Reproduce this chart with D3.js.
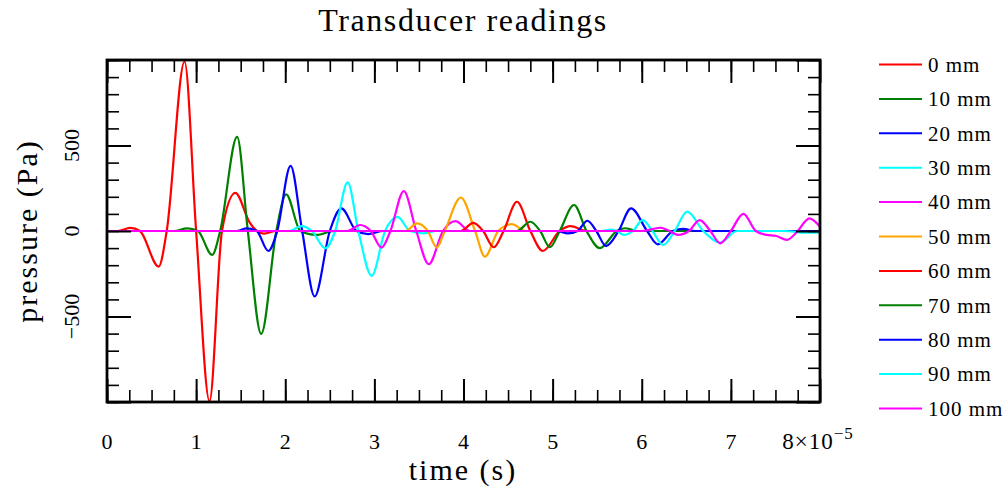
<!DOCTYPE html>
<html>
<head>
<meta charset="utf-8">
<script src="https://cdn.jsdelivr.net/npm/d3@7"></script>
<style>
  body { margin: 0; background: #fff; }
  text { font-family: "Liberation Serif", "DejaVu Serif", serif; fill: #000; }
</style>
</head>
<body>
<svg id="chart" width="1008" height="492"></svg>
<script>
// time in units of 1e-5 s, pressure in Pa
const labels = ['0 mm', '10 mm', '20 mm', '30 mm', '40 mm', '50 mm', '60 mm', '70 mm', '80 mm', '90 mm', '100 mm'];
const colors = ['#ff0000', '#008000', '#0000ff', '#00ffff', '#ff00ff', '#ffa500', '#ff0000', '#008000', '#0000ff', '#00ffff', '#ff00ff'];

const s0mm = [[0, 0], [0.12, 0], [0.26, 18], [0.37, 0], [0.58, -208], [0.67, 0], [0.87, 990], [1.0, 0], [1.15, -995], [1.29, 0], [1.44, 223], [1.6, 50], [1.67, 5], [1.76, -15], [1.9, 0], [8, 0]];
const s10mm = [[0, 0], [0.75, 0], [0.9, 15], [1.02, 0], [1.18, -140], [1.27, 0], [1.46, 550], [1.58, 0], [1.73, -602], [1.9, 0], [2.01, 214], [2.17, 0], [2.35, -23], [2.55, 0], [8, 0]];
const s20mm = [[0, 0], [1.45, 0], [1.57, 15], [1.68, 0], [1.81, -117], [1.91, 0], [2.06, 381], [2.19, 0], [2.33, -383], [2.5, 0], [2.63, 132], [2.8, 0], [2.93, -18], [3.1, 0], [8, 0]];
const s30mm = [[0, 0], [2.05, 0], [2.18, 29], [2.3, 0], [2.45, -101], [2.56, 0], [2.7, 284], [2.82, 0], [2.97, -262], [3.12, 0], [3.26, 83], [3.4, 0], [3.55, -14], [3.7, 0], [8, 0]];
const s40mm = [[0, 0], [2.7, 0], [2.84, 35], [2.96, 0], [3.08, -97], [3.18, 0], [3.33, 233], [3.47, 0], [3.61, -194], [3.77, 0], [3.91, 58], [4.07, 0], [8, 0]];
const s50mm = [[0, 0], [3.35, 0], [3.48, 45], [3.6, 0], [3.7, -97], [3.79, 0], [3.97, 196], [4.13, 0], [4.24, -150], [4.39, 0], [4.54, 40], [4.7, 0], [8, 0]];
const s60mm = [[0, 0], [3.97, 0], [4.11, 48], [4.22, 0], [4.34, -95], [4.45, 0], [4.6, 171], [4.75, 0], [4.89, -117], [5.08, 0], [5.2, 28], [5.38, 0], [8, 0]];
const s70mm = [[0, 0], [4.6, 0], [4.75, 54], [4.86, 0], [4.97, -95], [5.08, 0], [5.24, 152], [5.38, 0], [5.53, -100], [5.72, 0], [5.81, 16], [5.95, 0], [8, 0]];
const s80mm = [[0, 0], [5.05, 0], [5.17, -14], [5.28, 0], [5.39, 60], [5.49, 0], [5.6, -88], [5.74, 0], [5.88, 132], [6.06, 0], [6.18, -78], [6.35, 0], [6.47, 12], [6.6, 0], [8, 0]];
const s90mm = [[0, 0], [5.55, 0], [5.65, 8], [5.72, 0], [5.8, -23], [5.9, 0], [6.01, 64], [6.12, 0], [6.24, -82], [6.37, 0], [6.51, 113], [6.69, 0], [6.88, -68], [7.07, 0], [7.6, 0], [7.85, -10], [8, -8]];
const s100mm = [[0, 0], [6.0, 0], [6.21, 19], [6.31, 0], [6.41, -23], [6.53, 0], [6.65, 64], [6.77, 0], [6.88, -72], [7.0, 0], [7.14, 100], [7.28, 0], [7.4, -23], [7.5, -28], [7.63, -52], [7.75, 0], [7.88, 74], [8, 25]];

const series = [s0mm, s10mm, s20mm, s30mm, s40mm, s50mm, s60mm, s70mm, s80mm, s90mm, s100mm];
const xTicks = [0, 1, 2, 3, 4, 5, 6, 7, 8];
const yTicks = [-500, 0, 500];

const svg = d3.select('#chart');
const plotLeft = 107, plotRight = 820, plotTop = 60, plotBottom = 402;

const x = d3.scaleLinear().domain([0, 8]).range([plotLeft, plotRight]);
const y = d3.scaleLinear().domain([-1000, 1000]).range([plotBottom, plotTop]);

svg.append('clipPath').attr('id', 'plot-clip')
  .append('rect')
  .attr('x', plotLeft).attr('y', plotTop)
  .attr('width', plotRight - plotLeft).attr('height', plotBottom - plotTop);

// lines
const line = d3.line()
  .x(d => x(d[0]))
  .y(d => y(d[1]))
  .curve(d3.curveMonotoneX);

svg.append('g')
  .attr('clip-path', 'url(#plot-clip)')
  .selectAll('path')
  .data(series)
  .enter().append('path')
  .attr('fill', 'none')
  .attr('stroke', (d, i) => colors[i])
  .attr('stroke-width', 2.2)
  .attr('stroke-linejoin', 'round')
  .attr('d', line);

// ticks on all four sides, pointing inward
function ticks(g, axis, values, size, width) {
  g.call(axis.tickValues(values).tickSize(-size).tickFormat(''));
  g.select('.domain').remove();
  g.selectAll('.tick line').attr('stroke', '#000').attr('stroke-width', width);
}
const minorX = d3.range(0, 32).map(i => i * 0.25);
const minorY = d3.range(-10, 11).map(i => i * 100);
const majorY = [-1000, -500, 0, 500, 1000];

[[d3.axisBottom, `translate(0,${plotBottom})`], [d3.axisTop, `translate(0,${plotTop})`]].forEach(([ax, tr]) => {
  ticks(svg.append('g').attr('transform', tr), ax(x), minorX, 12, 1.6);
  ticks(svg.append('g').attr('transform', tr), ax(x), xTicks, 23, 2);
});
[[d3.axisLeft, `translate(${plotLeft},0)`], [d3.axisRight, `translate(${plotRight},0)`]].forEach(([ax, tr]) => {
  ticks(svg.append('g').attr('transform', tr), ax(y), minorY, 12, 1.6);
  ticks(svg.append('g').attr('transform', tr), ax(y), majorY, 24, 2);
});

svg.append('rect')
  .attr('x', plotLeft).attr('y', plotTop)
  .attr('width', plotRight - plotLeft).attr('height', plotBottom - plotTop)
  .attr('fill', 'none')
  .attr('stroke', '#000')
  .attr('stroke-width', 2.8);

// tick labels
svg.append('g')
  .selectAll('text')
  .data(xTicks.slice(0, -1))
  .enter().append('text')
  .attr('x', d => x(d))
  .attr('y', 449)
  .attr('text-anchor', 'middle')
  .style('font-size', '22px')
  .text(d => d);

const last = svg.append('text')
  .attr('x', x(8) - 2)
  .attr('y', 449)
  .attr('text-anchor', 'middle')
  .style('font-size', '23px')
  .style('letter-spacing', '1px');
last.append('tspan').text('8×10');
last.append('tspan').attr('dy', -10).style('font-size', '17px').text('−5');

svg.append('g')
  .selectAll('text')
  .data(yTicks)
  .enter().append('text')
  .attr('transform', d => `translate(79,${y(d)}) rotate(-90)`)
  .attr('text-anchor', 'middle')
  .style('font-size', '22px')
  .text(d => d < 0 ? '−' + Math.abs(d) : d);

// titles
svg.append('text')
  .attr('x', 463).attr('y', 31)
  .attr('text-anchor', 'middle')
  .style('font-size', '32px')
  .style('letter-spacing', '1.6px')
  .text('Transducer readings');

svg.append('text')
  .attr('x', 463).attr('y', 480)
  .attr('text-anchor', 'middle')
  .style('font-size', '30px')
  .style('letter-spacing', '2px')
  .text('time (s)');

svg.append('text')
  .attr('transform', `translate(37,${y(0)}) rotate(-90)`)
  .attr('text-anchor', 'middle')
  .style('font-size', '30px')
  .style('letter-spacing', '2px')
  .text('pressure (Pa)');

// legend
const legend = svg.append('g')
  .selectAll('g')
  .data(labels)
  .enter().append('g')
  .attr('transform', (d, i) => `translate(879,${64.5 + i * 34.4})`);

legend.append('line')
  .attr('x1', 0).attr('x2', 43)
  .attr('stroke', (d, i) => colors[i])
  .attr('stroke-width', 2);

legend.append('text')
  .attr('x', 49)
  .attr('dy', '0.35em')
  .style('font-size', '21px')
  .style('letter-spacing', '1px')
  .text(d => d);
</script>
</body>
</html>
